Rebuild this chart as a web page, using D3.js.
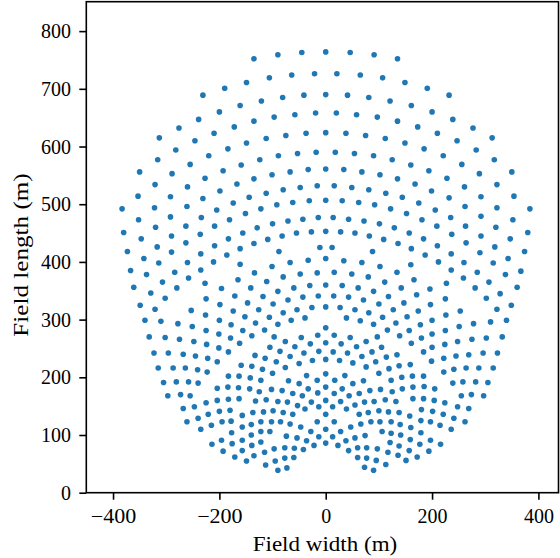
<!DOCTYPE html>
<html>
<head>
<meta charset="utf-8">
<script src="https://cdn.jsdelivr.net/npm/d3@7"></script>
<style>
  html, body { margin: 0; padding: 0; background: #fff; }
  svg { display: block; }
  svg text { font-family: 'Liberation Serif', 'DejaVu Serif', serif; font-weight: normal; fill: #000; }
</style>
</head>
<body>
<svg id="chart" width="560" height="558"></svg>
<script>
// Heliostat positions [field width (m), field length (m)]
const westOuter = [
  [-231,689],[-239,647],[-276,632],[-210,623],[-313,615],[-246,610],[-282,594],[-220,584],[-316,577],[-350,556],
  [-255,569],[-289,553],[-227,545],[-321,534],[-260,530],[-353,514],[-292,513],[-231,510],[-383,492],[-322,494],
  [-261,496],[-205,490],[-352,473],[-292,478],[-234,477],[-380,451],[-320,460],[-263,462],[-209,462],[-347,440],
  [-290,445],[-236,448],[-373,418],[-317,426],[-263,433],[-209,428],[-342,406],[-290,417],[-235,414],
  [-314,398],[-260,399],[-211,400],[-367,385],[-337,378],[-284,382],[-235,386],[-307,365],[-258,372],[-361,356],
  [-329,346],[-280,355],[-227,363],[-302,337],[-225,336],[-349,325],[-321,318],[-253,316],[-226,308],[-340,299],
  [-310,297],[-278,293],[-251,288],[-225,281],[-332,270],[-302,269],[-275,266],[-248,262],[-224,257],[-323,242],
  [-296,242],[-268,240],[-245,237],[-222,233],[-315,216],[-287,216],[-264,216],[-241,213],[-223,209],[-305,191],
  [-281,192],[-258,192],[-240,190],[-297,168],[-273,170],[-255,168],[-268,146],[-247,149],[-225,156],[-261,123],
  [-240,129],[-221,136],[-235,110],[-215,117],[-214,84]
];
const westInner = [
  [-135,752],[-90,759],[-45,763],[-190,701],[-149,711],[-106,719],[-64,724],[-21,726],[-200,660],[-161,671],
  [-121,679],[-81,685],[-41,689],[-172,634],[-135,644],[-97,651],[-58,655],[-19,658],[-184,596],[-149,606],
  [-112,614],[-75,619],[-37,623],[-193,558],[-159,568],[-124,577],[-89,584],[-53,588],[-18,590],[-167,535],
  [-135,544],[-101,551],[-67,556],[-33,560],[-199,523],[-144,512],[-112,519],[-80,525],[-48,529],[-16,532],
  [-174,502],[-122,492],[-92,499],[-62,503],[-31,506],[-181,473],[-151,484],[-129,459],[-100,466],[-71,471],
  [-43,474],[-14,477],[-156,450],[-183,440],[-109,439],[-82,445],[-55,450],[-27,452],[-135,432],[-161,423],
  [-186,412],[-88,418],[-11,425],
  [-161,396],[-101,392],[-67,399],[-33,403],[-134,381],[-80,374],[-48,379],[-16,381],[-165,369],[-111,366],
  [-196,354],[-141,355],[-90,349],[-60,355],[-30,359],[-171,341],[-118,340],[-71,334],[-43,339],[-14,341],
  [-199,326],[-147,329],[-99,327],[-174,315],[-126,317],[-80,312],[-54,317],[-26,321],[-152,305],[-106,304],
  [-65,299],[-39,303],[-200,299],[-178,291],[-132,294],[-90,292],[-156,281],[-115,282],[-201,275],[-179,268],
  [-139,272],[-97,270],[-46,269],[-15,273],[-162,259],[-76,262],[-105,252],[-58,253],[-29,258],[-201,251],
  [-183,244],[-133,238],[-86,245],[-41,242],[-13,245],[-114,233],[-67,236],[-204,227],[-93,227],[-50,224],
  [-25,229],[-159,221],[-139,219],[-119,214],[-76,217],[-100,207],[-183,202],[-163,202],[-142,199],[-122,195],
  [-36,203],[-70,194],[-50,189],[-16,195],[-204,181],[-184,183],[-164,182],[-143,180],[-125,175],[-102,179],
  [-82,177],[-62,172],[-33,180],[-44,168],[-15,173],[-204,160],[-183,162],[-163,163],[-132,159],[-112,161],
  [-90,158],[-72,157],[-53,151],[-27,157],[-200,141],[-180,143],[-157,134],[-137,139],[-117,140],[-99,142],
  [-80,139],[-62,136],[-39,145],[-13,149],[-195,123],[-178,124],[-140,118],[-122,123],[-102,123],[-85,123],
  [-67,119],[-47,114],[-16,123],[-157,114],[-177,104],[-140,100],[-122,106],[-105,106],[-74,98],[-54,95],
  [-28,106],[-196,91],[-176,85],[-157,91],[-139,82],[-122,88],[-36,90],[-13,97],[-193,72],[-157,73],
  [-135,64],[-115,70],[-97,76],[-77,78],[-59,77],[-42,75],[-22,82],[-171,62],[-149,55],[-113,48],
  [-95,55],[-77,60],[-60,61],[-90,39],[-73,43]
];
const centerLine = [
  [0,764],[0,690],[0,624],[0,561],[0,507],[0,453],[0,406],[0,360],[0,322],[0,286],
  [0,260],[0,231],[0,206],[0,183],[0,160],[0,136],[0,110],[0,86]
];
const eastInner = [
  [46,763],[91,759],[135,752],[21,726],[65,724],[107,719],[149,711],[191,701],[41,689],[81,685],
  [121,679],[161,671],[200,660],[20,658],[58,655],[97,651],[135,644],[173,634],[38,623],[75,619],
  [112,614],[149,606],[185,596],[18,590],[54,588],[90,584],[125,577],[160,568],[194,558],[34,560],
  [68,556],[102,551],[135,544],[168,535],[16,532],[49,529],[81,525],[113,519],[144,512],[199,523],
  [31,506],[62,503],[92,499],[122,492],[175,502],[14,477],[43,474],[72,471],[101,466],[129,459],
  [152,484],[181,473],[28,452],[55,450],[82,445],[109,439],[157,450],[184,440],[12,425],[88,418],
  [136,432],[161,423],[187,412],
  [34,402],[68,399],[102,392],[160,395],[16,382],[49,379],[80,374],[134,382],[166,369],[31,359],
  [61,355],[111,365],[90,349],[142,355],[196,353],[15,341],[43,339],[71,334],[118,340],[171,343],
  [27,321],[55,317],[100,327],[147,329],[197,326],[81,312],[127,317],[174,315],[39,303],[65,298],
  [107,304],[153,305],[90,292],[132,294],[178,291],[116,282],[157,281],[200,275],[16,273],[46,269],
  [97,270],[139,272],[180,268],[29,258],[58,253],[76,262],[105,252],[161,259],[200,252],[14,244],
  [41,242],[68,236],[87,244],[114,235],[134,239],[184,244],[26,229],[51,225],[94,227],[119,215],
  [138,220],[159,222],[199,228],[76,218],[100,207],[36,203],[123,195],[143,200],[163,202],[184,202],
  [17,195],[51,189],[71,194],[31,180],[83,177],[103,179],[125,175],[144,180],[164,183],[185,184],
  [16,172],[44,168],[63,172],[28,158],[55,152],[73,157],[91,158],[112,161],[132,158],[164,163],
  [184,163],[13,149],[39,145],[63,136],[80,139],[100,142],[118,140],[138,139],[158,133],[180,144],
  [16,123],[47,114],[66,119],[85,123],[102,123],[123,123],[140,118],[160,113],[179,125],[197,123],
  [28,106],[55,95],[74,99],[106,106],[123,103],[141,100],[179,104],[13,97],[38,90],[23,82],
  [43,73],[60,78],[77,78],[97,76],[117,70],[136,65],[157,73],[177,84],[121,87],[138,81],
  [159,92],[197,91],[194,72],[60,61],[77,60],[95,56],[113,49],[151,56],[172,62],[73,44],
  [90,39]
];
const eastOuter = [
  [232,689],[239,647],[277,632],[210,623],[313,615],[247,610],[283,594],[221,584],[317,577],[350,556],
  [256,569],[289,553],[228,545],[322,534],[261,530],[354,514],[292,513],[232,511],[384,492],[322,494],
  [262,496],[206,490],[352,473],[292,479],[235,477],[380,451],[320,460],[263,462],[209,462],[347,440],
  [292,445],[237,448],[374,418],[318,426],[264,433],[210,428],[343,406],[290,416],[236,414],
  [212,400],[260,399],[315,398],[236,386],[285,382],[338,378],[367,384],[259,372],[227,363],[307,365],
  [281,355],[360,356],[328,345],[302,337],[225,336],[349,325],[253,315],[322,318],[226,308],[200,299],
  [278,293],[310,296],[340,299],[251,288],[225,281],[275,266],[302,268],[332,270],[248,262],[224,257],
  [269,239],[296,242],[323,242],[245,237],[222,233],[222,209],[241,214],[264,216],[288,216],[315,216],
  [239,190],[258,192],[282,192],[305,191],[205,180],[255,168],[274,170],[297,168],[204,160],[224,156],
  [248,149],[269,146],[201,141],[221,136],[241,129],[262,123],[215,117],[236,110],[216,84]
];

const xTicks = [-400, -200, 0, 200, 400];
const yTicks = [0, 100, 200, 300, 400, 500, 600, 700, 800];
const xLabel = "Field width (m)";
const yLabel = "Field length (m)";

(function () {
  const points = [].concat(westOuter, westInner, centerLine, eastInner, eastOuter);
  const serif = "'Liberation Serif', 'DejaVu Serif', serif";

  const svg = d3.select("#chart");
  const mLeft = 86.3, mRight = 558.5, mTop = 1.7, mBottom = 492.7;

  const x = d3.scaleLinear().domain([-450.3, 437.8]).range([mLeft, mRight]);
  const y = d3.scaleLinear().domain([0, 851]).range([mBottom, mTop]);

  // points
  svg.append("g")
    .selectAll("circle")
    .data(points)
    .join("circle")
    .attr("cx", d => x(d[0]))
    .attr("cy", d => y(d[1]))
    .attr("r", 2.8)
    .attr("fill", "#1f77b4");

  const minus = "\u2212";
  const fmt = v => (v < 0 ? minus : "") + Math.abs(v);

  const gx = svg.append("g").attr("transform", `translate(0,${mBottom})`)
    .call(d3.axisBottom(x).tickValues(xTicks).tickSize(7).tickFormat(fmt));
  gx.attr("font-family", null).attr("font-size", null);
  gx.select(".domain").remove();
  gx.selectAll(".tick line").attr("stroke", "#000").attr("stroke-width", 1.6);
  gx.selectAll(".tick text")
    .attr("y", 30.6).attr("dy", null)
    .style("font-family", serif)
    .style("font-size", "20px")
    .attr("fill", "#000")
    .each(function (d) {
      const n = String(Math.abs(d)).length;
      if (d < 0) d3.select(this).attr("textLength", n * 10 + 15.5).attr("lengthAdjust", "spacingAndGlyphs");
    });

  const gy = svg.append("g").attr("transform", `translate(${mLeft},0)`)
    .call(d3.axisLeft(y).tickValues(yTicks).tickSize(7).tickFormat(fmt));
  gy.attr("font-family", null).attr("font-size", null);
  gy.select(".domain").remove();
  gy.selectAll(".tick line").attr("stroke", "#000").attr("stroke-width", 1.6);
  gy.selectAll(".tick text")
    .attr("x", -15.3).attr("dy", null).attr("y", 6.6)
    .style("font-family", serif)
    .style("font-size", "20px")
    .attr("fill", "#000");

  // frame (spines)
  svg.append("rect")
    .attr("x", mLeft).attr("y", mTop)
    .attr("width", mRight - mLeft).attr("height", mBottom - mTop)
    .attr("fill", "none").attr("stroke", "#000").attr("stroke-width", 1.6);

  // axis labels
  svg.append("text")
    .attr("x", 325).attr("y", 551)
    .attr("text-anchor", "middle")
    .style("font-family", serif)
    .style("font-size", "20px")
    .attr("textLength", 144.6).attr("lengthAdjust", "spacingAndGlyphs")
    .text(xLabel);

  svg.append("text")
    .attr("transform", "translate(28.3,255) rotate(-90)")
    .attr("text-anchor", "middle")
    .style("font-family", serif)
    .style("font-size", "20px")
    .attr("textLength", 163.3).attr("lengthAdjust", "spacingAndGlyphs")
    .text(yLabel);
})();
</script>
</body>
</html>
